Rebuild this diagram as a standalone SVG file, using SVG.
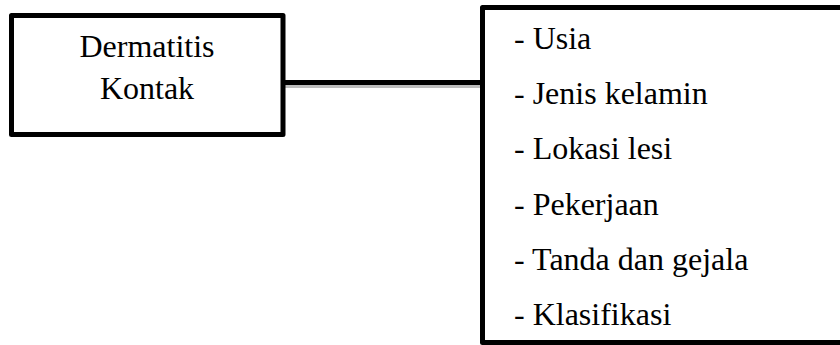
<svg xmlns="http://www.w3.org/2000/svg" width="840" height="345" viewBox="0 0 840 345">
<style>
.box{fill:#fff;stroke:#000;stroke-width:5;stroke-linejoin:round}
.t{font-family:'Liberation Serif','Times New Roman',serif;font-size:32px;fill:#000}
.c{text-anchor:middle}
.conn{stroke:#000;stroke-width:5;fill:none}
.shadow{stroke:#bdbdbd;stroke-width:3;fill:none}
</style>
<g id="connectors">
<line class="shadow" x1="285" y1="86.5" x2="480" y2="86.5"/>
<line class="conn" x1="283" y1="82.5" x2="482" y2="82.5"/>
</g>
<g id="node-dermatitis">
<rect class="box" x="11.5" y="15.5" width="271.5" height="119"/>
<text class="t c" x="147" y="57">Dermatitis</text>
<text class="t c" x="147" y="99">Kontak</text>
</g>
<g id="node-list">
<rect class="box" x="482.5" y="7.5" width="370" height="335"/>
<text class="t" x="514" y="48.5">- Usia</text>
<text class="t" x="514" y="104">- Jenis kelamin</text>
<text class="t" x="514" y="159">- Lokasi lesi</text>
<text class="t" x="514" y="214.5">- Pekerjaan</text>
<text class="t" x="514" y="269.5">- Tanda dan gejala</text>
<text class="t" x="514" y="325">- Klasifikasi</text>
</g>
</svg>
